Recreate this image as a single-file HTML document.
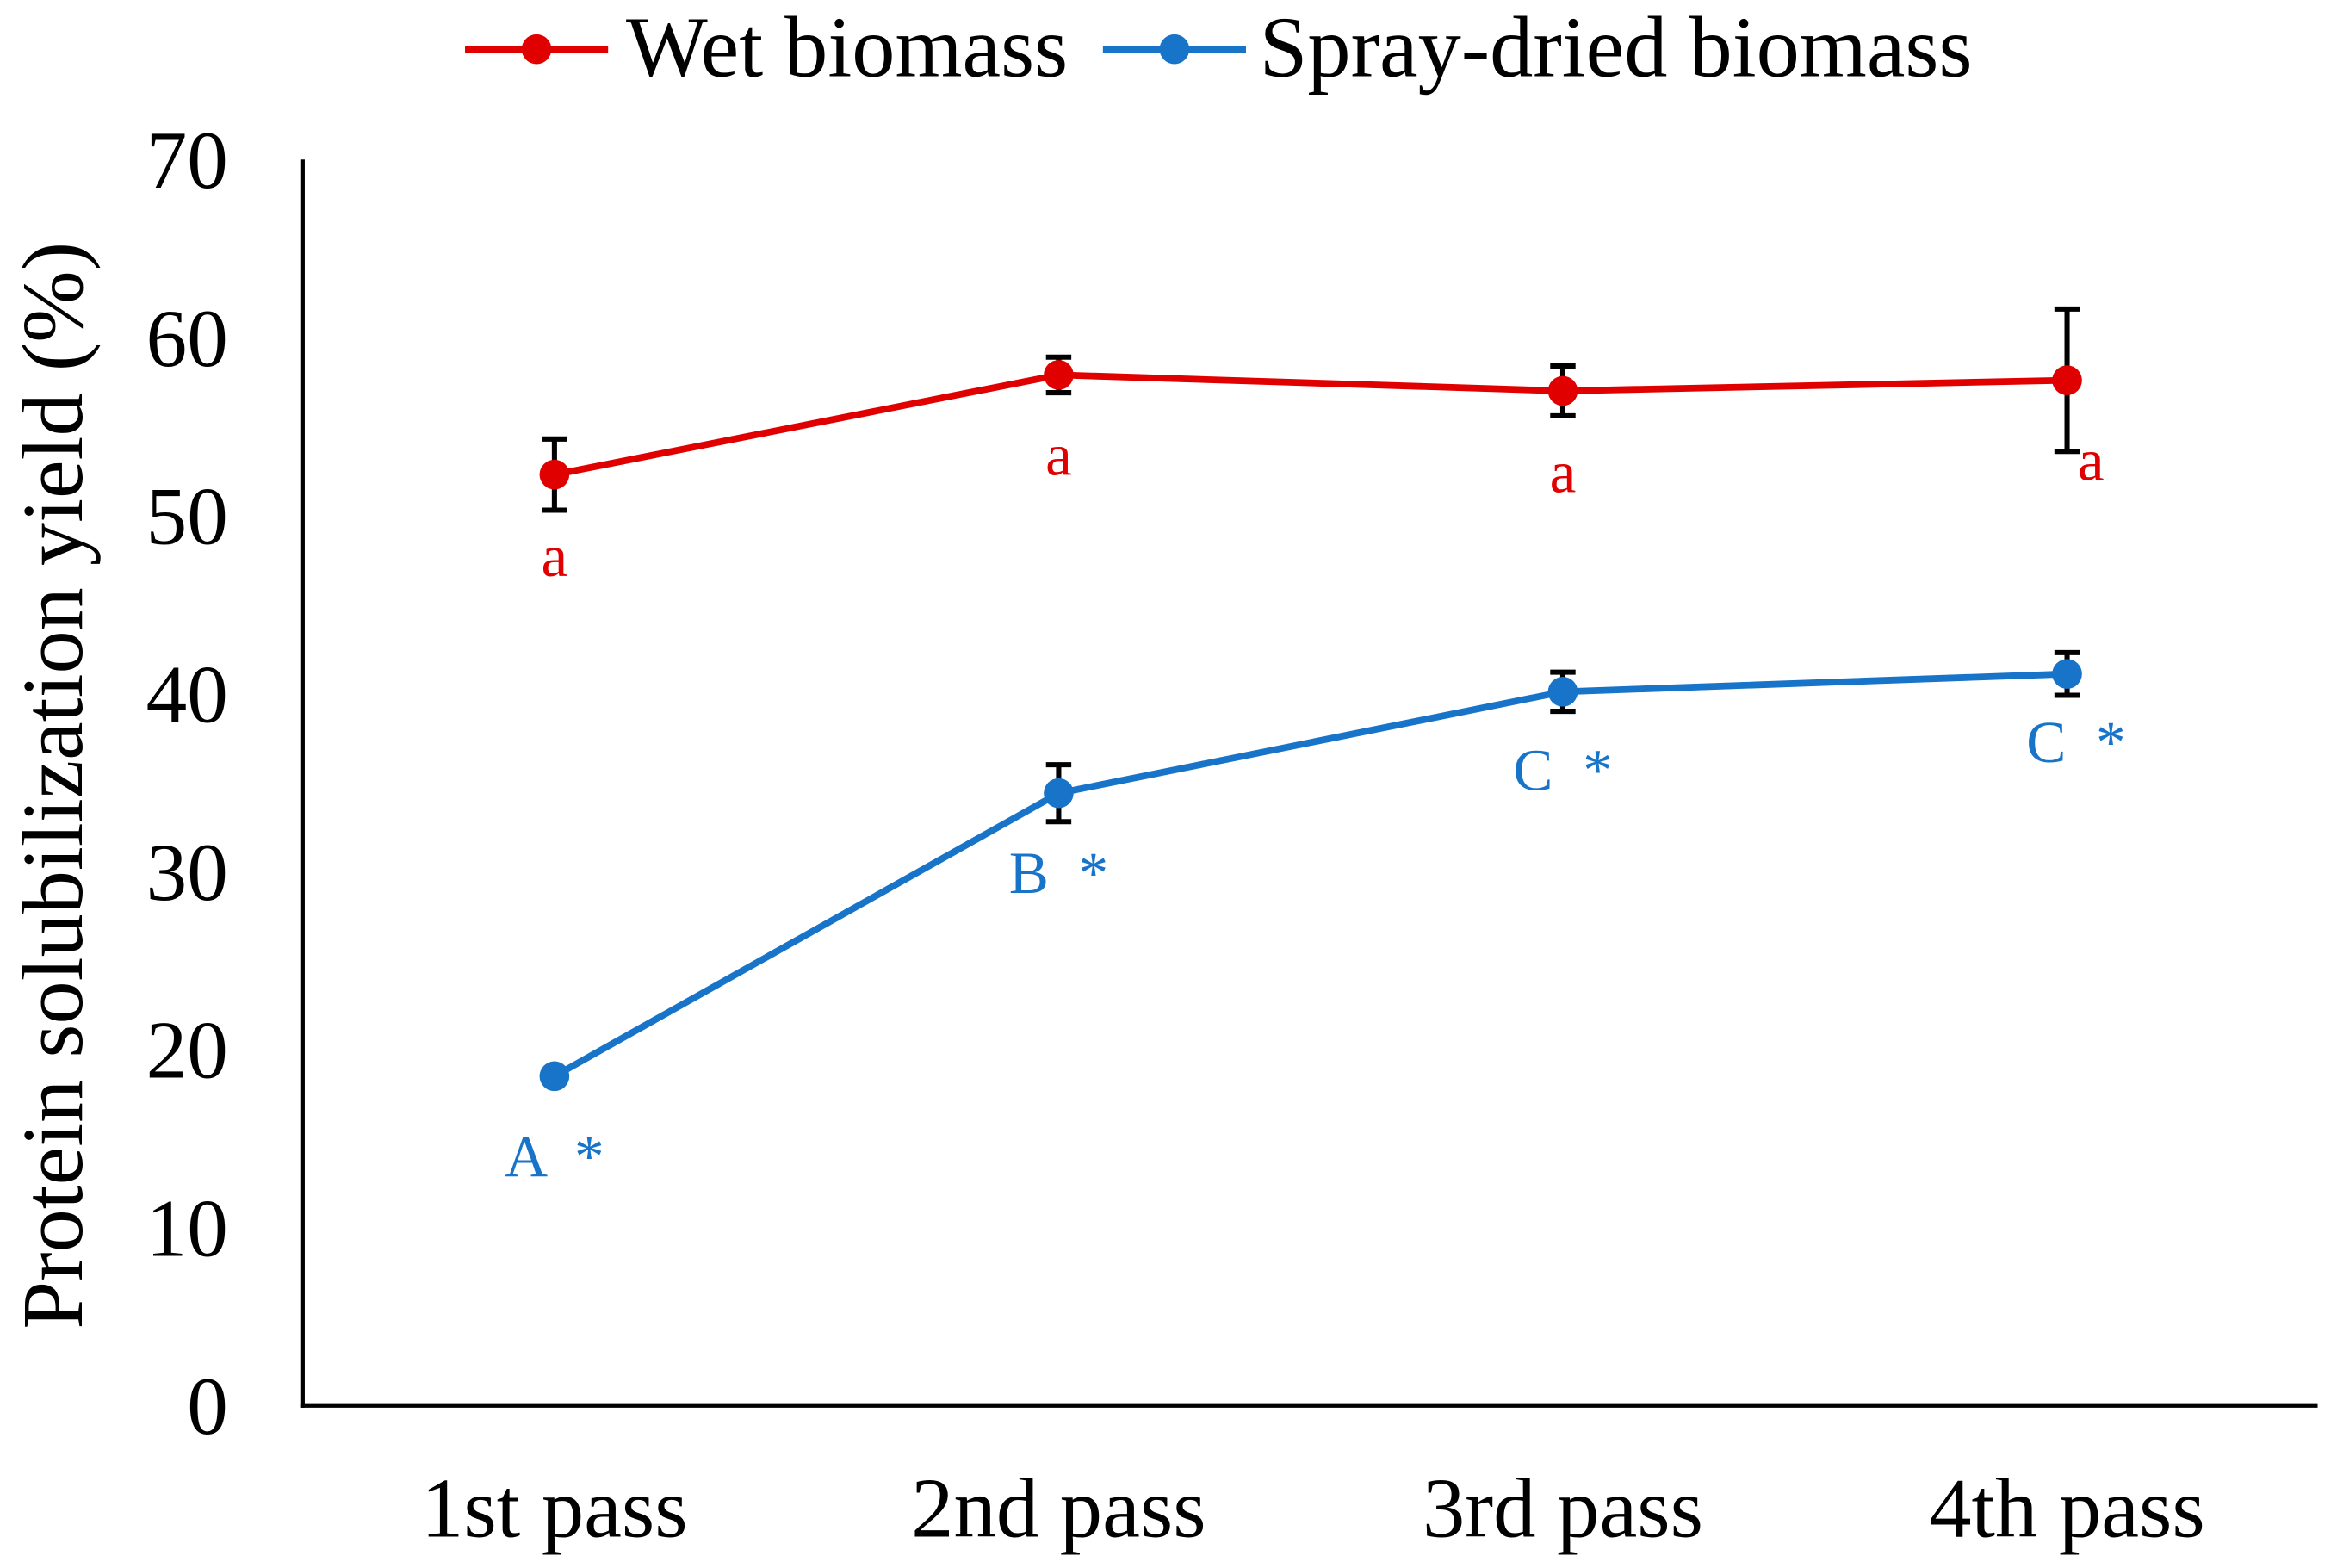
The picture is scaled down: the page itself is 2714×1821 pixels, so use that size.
<!DOCTYPE html>
<html><head><meta charset="utf-8"><style>
html,body{margin:0;padding:0;background:#fff}
svg{display:block}
text{font-family:"Liberation Serif",serif}
</style></head><body>
<svg id="chart" width="2714" height="1821" viewBox="0 0 1568 1052" xmlns="http://www.w3.org/2000/svg">
<g>
  <g>
    <line x1="312" y1="33" x2="408" y2="33" stroke="#E00000" stroke-width="4.5"/>
    <circle cx="360" cy="33" r="10" fill="#E00000"/>
    <text x="420" y="51" font-size="58">Wet biomass</text>
  </g>
  <g>
    <line x1="740" y1="33" x2="836" y2="33" stroke="#1874C8" stroke-width="4.5"/>
    <circle cx="788" cy="33" r="10" fill="#1874C8"/>
    <text x="845" y="51" font-size="58">Spray-dried biomass</text>
  </g>
</g>
<text transform="translate(55,527) rotate(-90)" text-anchor="middle" font-size="58">Protein solubilization yield (%)</text>
<g id="axes"></g>
<g id="marks"></g>
</svg>
<script>
const categories = ["1st pass","2nd pass","3rd pass","4th pass"];
const wetValues = [52.3, 57.9, 57.0, 57.6];
const wetErrors = [2.0, 1.0, 1.4, 4.0];
const wetLabels = ["a","a","a","a"];
const sprayValues = [18.5, 34.4, 40.1, 41.1];
const sprayErrors = [0.3, 1.6, 1.1, 1.2];
const sprayLabels = ["A  *","B  *","C  *","C  *"];
const yTicks = [0,10,20,30,40,50,60,70];

const NS = "http://www.w3.org/2000/svg";
const X0 = 203, X1 = 1555, Y0 = 943, Y1 = 107, YMAX = 70;
const xPos = i => 372 + i * 338.3;
const yPos = v => Y0 - (v / YMAX) * (Y0 - Y1);
function mk(tag, attrs, parent, txt) {
  const e = document.createElementNS(NS, tag);
  for (const k in attrs) e.setAttribute(k, attrs[k]);
  if (txt !== undefined) e.textContent = txt;
  parent.appendChild(e);
  return e;
}
const axes = document.getElementById('axes');
const marks = document.getElementById('marks');
let el = mk('line', {x1: X0, y1: Y1, x2: X0, y2: Y0 + 1.5, stroke: '#000', 'stroke-width': 3}, axes);


el = mk('line', {x1: X0 - 1.5, y1: Y0, x2: X1, y2: Y0, stroke: '#000', 'stroke-width': 3}, axes);


yTicks.forEach(t => {
  const e = mk('text', {x: 153, y: yPos(t) + 19, 'text-anchor': 'end', 'font-size': 55}, axes, String(t));
  
  
});
categories.forEach((c, i) => {
  const e = mk('text', {x: xPos(i), y: 1031, 'text-anchor': 'middle', 'font-size': 57}, axes, c);
  
  
});
function series(vals, errs, labels, color, name, labelOffsets) {
  const g = mk('g', {}, marks);
  
  
  const pts = vals.map((v, i) => xPos(i) + ',' + yPos(v)).join(' ');
  const pl = mk('polyline', {points: pts, fill: 'none', stroke: color, 'stroke-width': 4.5}, g);
  
  
  vals.forEach((v, i) => {
    const x = xPos(i), yt = yPos(v + errs[i]), yb = yPos(v - errs[i]);
    const eb = mk('path', {d: `M${x},${yt}V${yb}M${x-8.5},${yt}H${x+8.5}M${x-8.5},${yb}H${x+8.5}`, stroke: '#000', 'stroke-width': 3.5, fill: 'none'}, g);
    
    
  });
  vals.forEach((v, i) => {
    const c = mk('circle', {cx: xPos(i), cy: yPos(v), r: 10, fill: color}, g);
    
    
    const o = labelOffsets[i];
    const t = mk('text', {x: xPos(i) + o[0], y: yPos(v) + o[1], 'text-anchor': 'middle', 'font-size': 40, fill: color, 'xml:space': 'preserve'}, g, labels[i]);
    t.style.whiteSpace = 'pre';
    
    
  });
}
series(wetValues, wetErrors, wetLabels, '#E00000', 'wet-biomass', [[0,68],[0,67],[0,68],[16,67]]);
series(sprayValues, sprayErrors, sprayLabels, '#1874C8', 'spray-dried-biomass', [[0,67],[0,67],[0,66],[6,59]]);
</script>
</body></html>
